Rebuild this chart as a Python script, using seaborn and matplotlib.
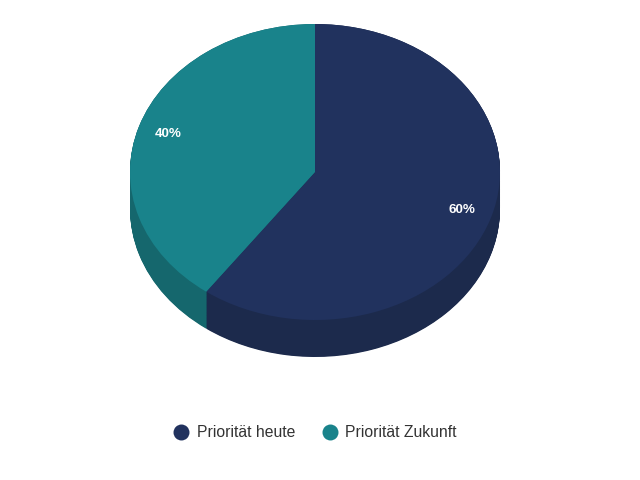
import matplotlib
matplotlib.use("Agg")
import matplotlib.pyplot as plt
import seaborn as sns
from matplotlib.lines import Line2D

categories = ["Priorität heute", "Priorität Zukunft"]
values = [60, 40]
top_colors = ["#21325e", "#19838b"]
side_colors = ["#1c2a4c", "#15676d"]

sns.set_theme(style="white")
plt.rcParams["font.family"] = ["Liberation Sans", "DejaVu Sans"]

fig = plt.figure(figsize=(6.4, 4.8), dpi=100)
ax = fig.add_axes([0, 0, 1, 1])
ax.set_axis_off()

yscale = 0.8          # vertical squash of the pie (tilt)
ax.set_xlim(0, 640)
ax.set_ylim(0, 480 / yscale)
cx = 315
cy = (480 - 172) / yscale
r = 185
depth = 37 / yscale

# side walls: stacked darker layers
n = 60
for i in range(n + 1):
    off = depth * (1 - i / n)
    ax.pie(values, colors=side_colors, startangle=90, counterclock=False,
           radius=r, center=(cx, cy - off), frame=True,
           wedgeprops=dict(linewidth=0))

# top face
wedges, texts, autotexts = ax.pie(
    values, colors=top_colors, startangle=90, counterclock=False,
    radius=r, center=(cx, cy), frame=True,
    autopct="%d%%", pctdistance=0.835,
    wedgeprops=dict(linewidth=0),
    textprops=dict(color="white", fontsize=9.6, fontweight="bold"))
ax.set_xlim(0, 640)
ax.set_ylim(0, 480 / yscale)
ax.set_aspect("auto")
ax.set_axis_off()

handles = [Line2D([0], [0], marker="o", linestyle="", markersize=11.5,
                  markerfacecolor=c, markeredgewidth=0) for c in top_colors]
fig.legend(handles, categories, loc="center", bbox_to_anchor=(0.491, 0.098),
           ncol=2, frameon=False, fontsize=11.3, handletextpad=0.4,
           columnspacing=1.6, labelcolor="#333333", handlelength=1.2)

fig.savefig("out.png", dpi=100)
